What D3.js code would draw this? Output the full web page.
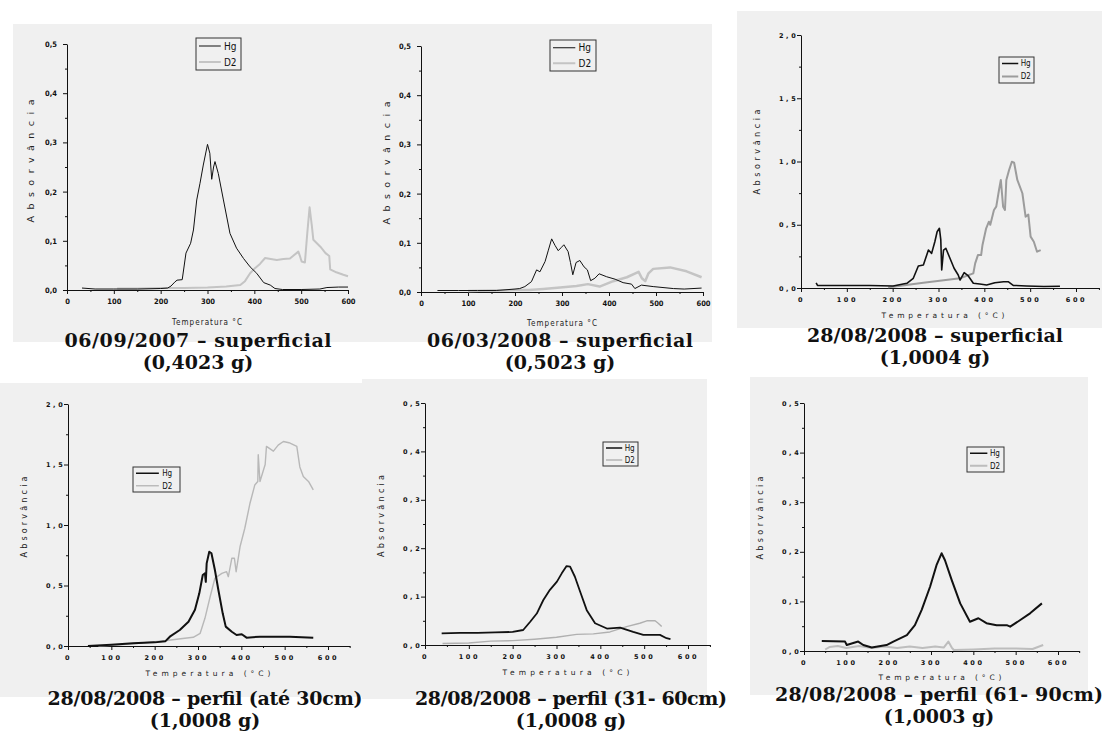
<!DOCTYPE html>
<html>
<head>
<meta charset="utf-8">
<script src="https://cdn.jsdelivr.net/npm/d3@7"></script>
<style>
  body { margin: 0; background: #fff; }
  svg { display: block; }
</style>
</head>
<body>
<svg id="chart" width="1105" height="733"></svg>
<script>
// ---- data (temperature °C, absorbance) ----
const captions = [
  ["06/09/2007 – superficial", "(0,4023 g)"],
  ["06/03/2008 – superficial", "(0,5023 g)"],
  ["28/08/2008 – superficial", "(1,0004 g)"],
  ["28/08/2008 – perfil (até 30cm)", "(1,0008 g)"],
  ["28/08/2008 – perfil (31- 60cm)", "(1,0008 g)"],
  ["28/08/2008 – perfil (61- 90cm)", "(1,0003 g)"]
];
const seriesNames = ["Hg", "D2"];

const hg1 = [[32,0.004],[60,0.002],[100,0.002],[150,0.002],[200,0.003],[215,0.004],[222,0.008],[230,0.016],[235,0.02],[246,0.021],[254,0.075],[264,0.095],[270,0.122],[277,0.183],[284,0.217],[291,0.254],[300,0.296],[305,0.278],[309,0.225],[313,0.25],[316,0.261],[323,0.237],[334,0.183],[348,0.115],[362,0.085],[377,0.064],[391,0.047],[405,0.034],[420,0.015],[434,0.01],[444,0.003],[460,0.001],[500,0.001],[540,0.002],[555,0.005],[580,0.006],[600,0.006]];
const d2_1 = [[107,0.003],[150,0.003],[200,0.004],[250,0.004],[300,0.005],[340,0.007],[370,0.01],[380,0.018],[391,0.034],[400,0.043],[412,0.053],[423,0.065],[435,0.063],[448,0.061],[462,0.063],[476,0.064],[494,0.078],[497,0.07],[501,0.058],[508,0.056],[513,0.115],[518,0.168],[523,0.129],[526,0.102],[541,0.088],[552,0.075],[560,0.069],[562,0.042],[575,0.036],[590,0.031],[600,0.028]];

const hg2 = [[35,0.003],[80,0.003],[120,0.003],[160,0.003],[200,0.006],[210,0.007],[221,0.011],[235,0.021],[246,0.045],[253,0.041],[264,0.062],[271,0.085],[278,0.108],[285,0.095],[292,0.084],[298,0.09],[304,0.096],[313,0.082],[318,0.06],[323,0.035],[330,0.06],[338,0.064],[347,0.051],[354,0.045],[361,0.023],[370,0.028],[379,0.037],[395,0.031],[413,0.026],[430,0.019],[448,0.016],[455,0.007],[469,0.014],[494,0.011],[537,0.007],[560,0.006],[597,0.008]];
const d2_2 = [[100,0.002],[150,0.003],[200,0.004],[230,0.004],[260,0.006],[296,0.009],[331,0.012],[355,0.016],[380,0.011],[409,0.022],[438,0.03],[463,0.041],[470,0.028],[477,0.022],[484,0.038],[494,0.047],[530,0.05],[565,0.042],[597,0.03]];

const hg3 = [[33,0.04],[36,0.02],[80,0.02],[150,0.02],[201,0.016],[231,0.037],[245,0.077],[256,0.174],[267,0.182],[278,0.3],[285,0.274],[292,0.366],[297,0.445],[302,0.472],[305,0.38],[307,0.142],[311,0.3],[316,0.314],[325,0.235],[334,0.156],[343,0.103],[347,0.063],[356,0.121],[365,0.095],[376,0.037],[390,0.032],[405,0.024],[423,0.042],[442,0.05],[452,0.05],[463,0.021],[492,0.016],[530,0.012],[565,0.014]];
const d2_3 = [[190,0.005],[201,0.01],[267,0.042],[347,0.077],[376,0.116],[380,0.195],[386,0.26],[393,0.26],[396,0.34],[404,0.472],[410,0.524],[413,0.5],[421,0.617],[426,0.643],[432,0.775],[436,0.854],[441,0.643],[445,0.617],[448,0.854],[454,0.933],[460,0.998],[465,0.99],[472,0.854],[483,0.749],[490,0.564],[496,0.58],[501,0.406],[508,0.366],[515,0.287],[523,0.3]];

const hg4 = [[46,0.0],[100,0.01],[150,0.022],[200,0.03],[225,0.04],[235,0.077],[258,0.132],[278,0.2],[293,0.3],[303,0.435],[311,0.587],[316,0.6],[318,0.53],[320,0.683],[326,0.779],[331,0.766],[339,0.628],[347,0.463],[357,0.27],[364,0.16],[378,0.118],[389,0.091],[401,0.097],[412,0.069],[443,0.077],[512,0.077],[566,0.069]];
const d2_4 = [[70,0.0],[120,0.01],[170,0.025],[200,0.035],[228,0.045],[260,0.06],[289,0.072],[305,0.105],[316,0.229],[328,0.407],[339,0.56],[355,0.6],[366,0.614],[370,0.573],[378,0.725],[384,0.725],[388,0.614],[397,0.82],[408,0.973],[420,1.18],[431,1.33],[438,1.36],[439,1.58],[443,1.36],[455,1.5],[458,1.65],[474,1.61],[485,1.66],[497,1.69],[510,1.68],[528,1.65],[535,1.48],[543,1.4],[555,1.36],[566,1.29]];

const hg5 = [[38,0.024],[80,0.025],[120,0.025],[160,0.026],[200,0.027],[224,0.031],[240,0.048],[255,0.065],[270,0.093],[285,0.114],[301,0.131],[312,0.148],[323,0.163],[331,0.162],[342,0.141],[354,0.11],[369,0.072],[388,0.045],[415,0.034],[445,0.036],[475,0.027],[498,0.021],[536,0.021],[551,0.014],[560,0.012]];
const d2_5 = [[40,0.003],[100,0.004],[150,0.008],[200,0.009],[250,0.012],[300,0.016],[346,0.022],[384,0.023],[422,0.027],[460,0.038],[490,0.045],[506,0.05],[525,0.05],[532,0.045],[540,0.038]];

const hg6 = [[42,0.02],[97,0.019],[101,0.012],[128,0.019],[140,0.012],[160,0.007],[195,0.012],[211,0.019],[243,0.032],[262,0.052],[278,0.083],[298,0.13],[313,0.173],[325,0.197],[333,0.183],[349,0.143],[369,0.096],[392,0.059],[412,0.066],[431,0.056],[455,0.052],[479,0.052],[487,0.049],[510,0.062],[534,0.076],[562,0.096]];
const d2_6 = [[50,0.003],[60,0.008],[80,0.01],[100,0.006],[130,0.01],[160,0.006],[190,0.009],[220,0.006],[250,0.009],[280,0.006],[310,0.009],[330,0.007],[341,0.019],[349,0.007],[354,0.002],[400,0.003],[450,0.005],[500,0.005],[540,0.004],[565,0.012]];

// tick values
const xMajor = [0, 100, 200, 300, 400, 500, 600];
const xMinorA = [50, 150, 250, 350, 450, 550];
const xMinorB = [50, 150, 250, 350, 450, 550, 650];
const yMajorLow = [0, 0.1, 0.2, 0.3, 0.4, 0.5];
const yMinorLow = [0.05, 0.15, 0.25, 0.35, 0.45];
const yMajorHigh = [0, 0.5, 1.0, 1.5, 2.0];
const yMinorHigh = [0.25, 0.75, 1.25, 1.75];

// ---- layout of each panel (pixel positions) ----
// cap = [centre x, baseline line 1, baseline line 2, width of line 1]
const panels = [
  { hg: hg1, d2: d2_1, style: "a", bg: [13, 24, 347, 318], x0: 67, x600: 348, xMax: 600, y0: 290, yTop: 44, yMax: 0.5,
    yMajor: yMajorLow, yMinor: yMinorLow, leg: [196, 38, 45, 32], ylab: [31, 161, 123], xlab: [207, 322, 70],
    cap: [198, 347, 369, 267], hgW: 1, d2W: 2, d2C: "#c4c4c4" },
  { hg: hg2, d2: d2_2, style: "a", bg: [360, 24, 352, 318], x0: 421, x600: 703, xMax: 600, y0: 292, yTop: 46, yMax: 0.5,
    yMajor: yMajorLow, yMinor: yMinorLow, leg: [550, 40, 46, 31], ylab: [387, 163, 123], xlab: [562, 323, 70],
    cap: [560, 347, 369, 266], hgW: 1, d2W: 2.5, d2C: "#c4c4c4" },
  { hg: hg3, d2: d2_3, style: "b", bg: [737, 11, 365, 317], x0: 801, x600: 1076, xMax: 650, y0: 288, yTop: 35, yMax: 2.0,
    yMajor: yMajorHigh, yMinor: yMinorHigh, leg: [999, 57, 35, 26], ylab: [757, 152, 85], xlab: [943, 315, 123],
    cap: [935, 342, 364, 256], hgW: 1.6, d2W: 2, d2C: "#9c9c9c" },
  { hg: hg4, d2: d2_4, style: "b", bg: [0, 383, 368, 314], x0: 68, x600: 328, xMax: 650, y0: 646, yTop: 404, yMax: 2.0,
    yMajor: yMajorHigh, yMinor: yMinorHigh, leg: [133, 467, 47, 25], ylab: [24, 517, 81], xlab: [208, 673, 125],
    cap: [205, 705, 727, 315], hgW: 2, d2W: 1.4, d2C: "#b8b8b8" },
  { hg: hg5, d2: d2_5, style: "b", bg: [362, 379, 345, 320], x0: 425, x600: 688, xMax: 650, y0: 645, yTop: 403, yMax: 0.5,
    yMajor: yMajorLow, yMinor: yMinorLow, leg: [603, 442, 35, 24], ylab: [381, 516, 82], xlab: [566, 672, 127],
    cap: [571, 705, 727, 312], hgW: 1.8, d2W: 1.4, d2C: "#b0b0b0" },
  { hg: hg6, d2: d2_6, style: "b", bg: [750, 377, 338, 318], x0: 804, x600: 1058, xMax: 650, y0: 651, yTop: 403, yMax: 0.5,
    yMajor: yMajorLow, yMinor: yMinorLow, leg: [967, 447, 37, 25], ylab: [760, 518, 83], xlab: [940, 677, 123],
    cap: [939, 701, 723, 328], hgW: 2, d2W: 2, d2C: "#bdbdbd" }
];

const svg = d3.select("#chart");
const fmtComma = d => d3.format(".1f")(d).replace(".", ",");

panels.forEach((p, i) => {
  const g = svg.append("g");

  // grey plot background
  g.append("rect")
    .attr("x", p.bg[0]).attr("y", p.bg[1])
    .attr("width", p.bg[2]).attr("height", p.bg[3])
    .attr("fill", "#f0f0f0");

  const xRightPx = p.x0 + (p.x600 - p.x0) * p.xMax / 600;
  const x = d3.scaleLinear().domain([0, p.xMax]).range([p.x0, xRightPx]);
  const y = d3.scaleLinear().domain([0, p.yMax]).range([p.y0, p.yTop]);

  const spaced = p.style === "b";
  const tickFont = spaced ? "6.5px" : "7.5px";

  // x axis, major + minor
  const xAx = g.append("g").attr("transform", `translate(0,${p.y0})`)
    .call(d3.axisBottom(x).tickValues(xMajor).tickSize(4).tickSizeOuter(0).tickPadding(5)
      .tickFormat(d3.format("d")));
  g.append("g").attr("transform", `translate(0,${p.y0})`)
    .call(d3.axisBottom(x).tickValues(spaced ? xMinorB : xMinorA).tickSize(2).tickSizeOuter(0).tickFormat(""))
    .select(".domain").remove();

  // y axis, major + minor
  const yAx = g.append("g").attr("transform", `translate(${p.x0},0)`)
    .call(d3.axisLeft(y).tickValues(p.yMajor).tickSize(4).tickSizeOuter(0).tickPadding(spaced ? 14 : 6)
      .tickFormat(fmtComma));
  g.append("g").attr("transform", `translate(${p.x0},0)`)
    .call(d3.axisLeft(y).tickValues(p.yMinor).tickSize(2).tickSizeOuter(0).tickFormat(""))
    .select(".domain").remove();

  g.selectAll(".tick line, .domain").attr("stroke", "#111").attr("stroke-width", 1);
  [xAx, yAx].forEach(ax => ax.selectAll("text")
    .attr("fill", "#111")
    .style("font-family", spaced ? "'DejaVu Sans'" : "'DejaVu Sans Condensed', 'Liberation Sans Narrow', sans-serif")
    .style("font-weight", "bold")
    .style("font-size", tickFont)
    .style("letter-spacing", spaced ? "2.6px" : "0px"));
  if (spaced) {
    yAx.selectAll("text").attr("text-anchor", "start").attr("x", -22);
  }

  // curves
  const line = d3.line().x(d => x(d[0])).y(d => y(d[1]));
  g.append("path").datum(p.d2)
    .attr("d", line).attr("fill", "none")
    .attr("stroke", p.d2C).attr("stroke-width", p.d2W).attr("stroke-linejoin", "round");
  g.append("path").datum(p.hg)
    .attr("d", line).attr("fill", "none")
    .attr("stroke", "#111").attr("stroke-width", p.hgW).attr("stroke-linejoin", "round");

  // axis titles
  g.append("text")
    .attr("transform", `translate(${p.ylab[0]},${p.ylab[1]}) rotate(-90)`)
    .attr("text-anchor", "middle").attr("dy", "0.35em")
    .attr("textLength", p.ylab[2]).attr("lengthAdjust", "spacing")
    .style("font-family", "'DejaVu Sans', sans-serif")
    .style("font-size", spaced ? "8px" : "9.5px")
    .attr("fill", "#222")
    .text("Absorvância");
  g.append("text")
    .attr("x", p.xlab[0]).attr("y", p.xlab[1])
    .attr("text-anchor", "middle").attr("dy", "0.35em")
    .attr("textLength", p.xlab[2]).attr("lengthAdjust", "spacing")
    .style("font-family", spaced ? "'DejaVu Sans', sans-serif" : "'DejaVu Sans Condensed', sans-serif")
    .style("font-size", spaced ? "7.5px" : "8px")
    .attr("fill", "#222")
    .text(spaced ? "Temperatura (°C)" : "Temperatura °C");

  // legend box
  const lg = g.append("g").attr("transform", `translate(${p.leg[0]},${p.leg[1]})`);
  lg.append("rect").attr("width", p.leg[2]).attr("height", p.leg[3])
    .attr("fill", "#f0f0f0").attr("stroke", "#333").attr("stroke-width", 1);
  const rowH = p.leg[3] / 2;
  seriesNames.forEach((name, k) => {
    const ly = rowH * (k + 0.5);
    lg.append("line")
      .attr("x1", 3).attr("x2", p.leg[2] * 0.55).attr("y1", ly).attr("y2", ly)
      .attr("stroke", k === 0 ? "#111" : p.d2C)
      .attr("stroke-width", k === 0 ? Math.min(p.hgW, 1.5) : Math.min(p.d2W, 2));
    lg.append("text")
      .attr("x", p.leg[2] * 0.62).attr("y", ly).attr("dy", "0.35em")
      .style("font-family", "'DejaVu Sans Condensed', sans-serif")
      .style("font-size", p.leg[3] > 28 ? "10px" : "8px")
      .attr("fill", "#111")
      .text(name);
  });

  // caption under each plot
  captions[i].forEach((t, k) => {
    const txt = g.append("text")
      .attr("x", p.cap[0]).attr("y", p.cap[1 + k])
      .attr("text-anchor", "middle")
      .style("font-family", "'DejaVu Serif', serif")
      .style("font-weight", "bold")
      .style("font-size", "19px")
      .attr("fill", "#111")
      .text(t);
    if (k === 0) txt.attr("textLength", p.cap[3]).attr("lengthAdjust", "spacing");
  });
});
</script>
</body>
</html>
